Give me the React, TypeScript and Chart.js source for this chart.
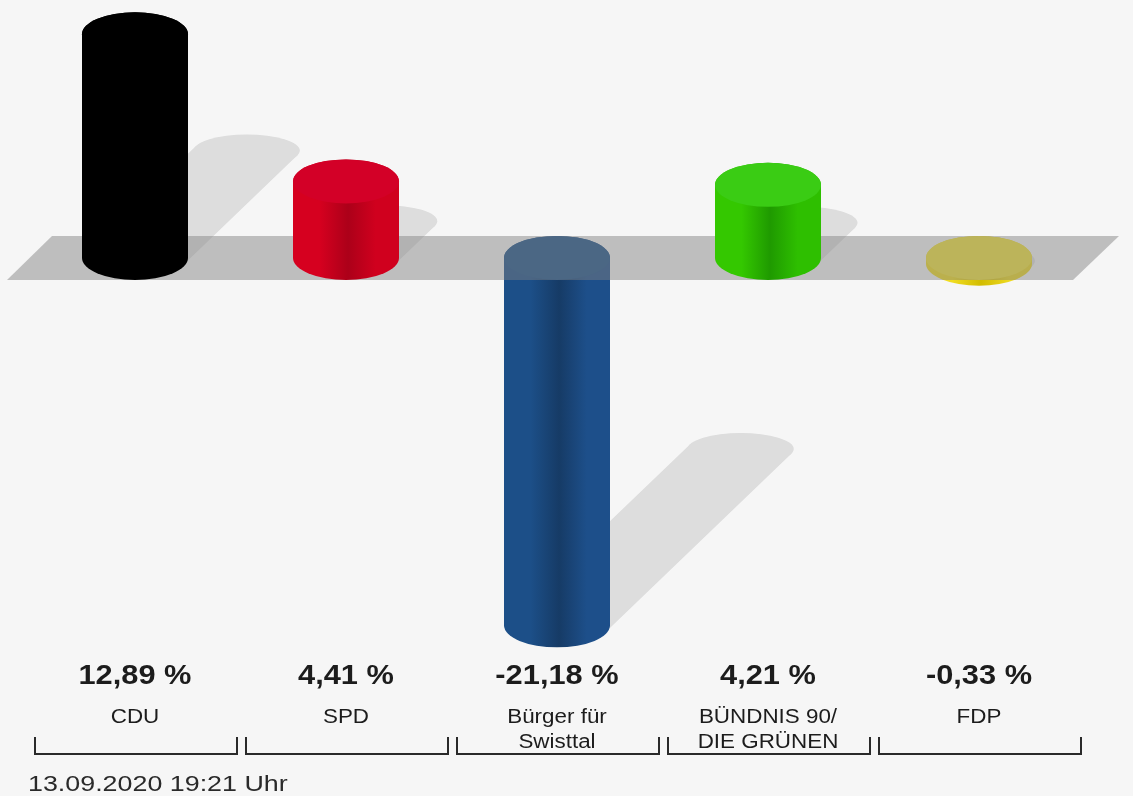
import React, { useEffect, useRef } from "react";
import { Chart, registerables } from "chart.js";

Chart.register(...registerables);

// ---- data ----
const parties: string[][] = [
  ["CDU"],
  ["SPD"],
  ["Bürger für", "Swisttal"],
  ["BÜNDNIS 90/", "DIE GRÜNEN"],
  ["FDP"],
];
const changes: number[] = [12.89, 4.41, -21.18, 4.21, -0.33];
const capColors: string[] = ["#000000", "#d30027", "#1d5189", "#3acc14", "#f2e23a"];
const bodyLight: string[] = ["#000000", "#d6001f", "#1c4f88", "#34c800", "#f0dc20"];
const bodyDark: string[] = ["#000000", "#ac0019", "#163b66", "#1f9a00", "#d2bc00"];
const bodyRight: string[] = ["#000000", "#d0001e", "#1d4f8a", "#2ebf00", "#ecd820"];
const timestamp = "13.09.2020 19:21 Uhr";

const FONT = '"Liberation Sans", Arial, Helvetica, sans-serif';

function fmt(v: number): string {
  return v.toFixed(2).replace(".", ",") + " %";
}

function stretchedText(
  ctx: CanvasRenderingContext2D,
  text: string,
  x: number,
  y: number,
  font: string,
  sx: number,
  align: CanvasTextAlign,
  baseline: CanvasTextBaseline
) {
  ctx.save();
  ctx.translate(x, y);
  ctx.scale(sx, 1);
  ctx.font = font;
  ctx.textAlign = align;
  ctx.textBaseline = baseline;
  ctx.fillText(text, 0, 0);
  ctx.restore();
}

const cylinderPlugin = {
  id: "cylinder3d",
  afterDatasetsDraw(chart: any) {
    const ctx: CanvasRenderingContext2D = chart.ctx;
    const meta = chart.getDatasetMeta(0);
    const area = chart.chartArea;
    const yScale = chart.scales.y;
    const zero = yScale.getPixelForValue(0);
    const RY = 22;
    const SRY = 16;

    const bars = meta.data.map((el: any, i: number) => {
      const cx = el.x;
      const rx = el.width / 2;
      const top = Math.min(el.y, el.base);
      const bot = Math.max(el.y, el.base);
      return { i, cx, rx, top, bot, h: bot - top, neg: changes[i] < 0 };
    });

    // shadows (union on offscreen canvas, then composited with alpha)
    const off = document.createElement("canvas");
    off.width = chart.width;
    off.height = chart.height;
    const o = off.getContext("2d")!;
    o.fillStyle = "#000";
    bars.forEach((b: any) => {
      if (b.h < 1) return;
      const p0x = b.cx, p0y = b.bot;
      const p1x = b.cx + 0.5 * b.h, p1y = b.bot - 0.48 * b.h;
      const dx = p1x - p0x, dy = p1y - p0y;
      const len = Math.hypot(dx, dy);
      const nx = -dy / len, ny = dx / len;
      const den = Math.sqrt(b.rx * b.rx * nx * nx + SRY * SRY * ny * ny);
      const px = (b.rx * b.rx * nx) / den, py = (SRY * SRY * ny) / den;
      o.beginPath();
      o.ellipse(p0x, p0y, b.rx, SRY, 0, 0, Math.PI * 2);
      o.fill();
      o.beginPath();
      o.ellipse(p1x, p1y, b.rx, SRY, 0, 0, Math.PI * 2);
      o.fill();
      o.beginPath();
      o.moveTo(p0x + px, p0y + py);
      o.lineTo(p1x + px, p1y + py);
      o.lineTo(p1x - px, p1y - py);
      o.lineTo(p0x - px, p0y - py);
      o.closePath();
      o.fill();
    });
    ctx.save();
    ctx.globalAlpha = 0.1;
    ctx.drawImage(off, 0, 0);
    ctx.restore();

    const drawCyl = (b: any) => {
      const { cx, rx, top, bot, i } = b;
      const g = ctx.createLinearGradient(cx - rx, 0, cx + rx, 0);
      g.addColorStop(0, bodyLight[i]);
      g.addColorStop(0.25, bodyLight[i]);
      g.addColorStop(0.52, bodyDark[i]);
      g.addColorStop(0.78, bodyRight[i]);
      g.addColorStop(1, bodyRight[i]);
      ctx.beginPath();
      ctx.moveTo(cx - rx, top);
      ctx.lineTo(cx - rx, bot);
      ctx.ellipse(cx, bot, rx, RY, 0, Math.PI, 0, true);
      ctx.lineTo(cx + rx, top);
      ctx.ellipse(cx, top, rx, RY, 0, 0, Math.PI, true);
      ctx.closePath();
      ctx.fillStyle = g;
      ctx.fill();
      ctx.beginPath();
      ctx.ellipse(cx, top, rx, RY, 0, 0, Math.PI * 2);
      ctx.fillStyle = capColors[i];
      ctx.fill();
    };

    bars.filter((b: any) => b.neg).forEach(drawCyl);

    // zero plane
    ctx.save();
    ctx.fillStyle = "rgba(128,128,128,0.47)";
    ctx.beginPath();
    ctx.moveTo(area.left + 22.5, zero - RY);
    ctx.lineTo(area.right + 34.5, zero - RY);
    ctx.lineTo(area.right - 11.5, zero + RY);
    ctx.lineTo(area.left - 22.5, zero + RY);
    ctx.closePath();
    ctx.fill();
    ctx.restore();

    bars.filter((b: any) => !b.neg).forEach(drawCyl);

    // labels, brackets
    ctx.save();
    ctx.fillStyle = "#1c1c1c";
    bars.forEach((b: any) => {
      const cx = b.cx;
      stretchedText(ctx, fmt(changes[b.i]), cx, 676, `bold 28px ${FONT}`, 1.1, "center", "middle");
      const lines = parties[b.i];
      lines.forEach((ln, k) => {
        stretchedText(ctx, ln, cx, 717 + k * 25, `20px ${FONT}`, 1.12, "center", "middle");
      });
      ctx.strokeStyle = "#2a2a2a";
      ctx.lineWidth = 2;
      ctx.beginPath();
      ctx.moveTo(cx - 100, 737);
      ctx.lineTo(cx - 100, 754);
      ctx.lineTo(cx + 102, 754);
      ctx.lineTo(cx + 102, 737);
      ctx.stroke();
    });
    ctx.fillStyle = "#2a2a2a";
    stretchedText(ctx, timestamp, 28, 791, `22px ${FONT}`, 1.22, "left", "alphabetic");
    ctx.restore();
  },
};

export default function App() {
  const ref = useRef<HTMLCanvasElement | null>(null);

  useEffect(() => {
    document.body.style.margin = "0";
    document.body.style.background = "#f6f6f6";
    const canvas = ref.current!;
    const chart = new Chart(canvas, {
      type: "bar",
      data: {
        labels: parties,
        datasets: [
          {
            data: changes,
            backgroundColor: "rgba(0,0,0,0)",
            borderWidth: 0,
            categoryPercentage: 1,
            barPercentage: 106 / 211,
          },
        ],
      },
      options: {
        responsive: false,
        animation: false,
        events: [],
        layout: { padding: { left: 29.5, right: 48.5, top: 15, bottom: 156.4 } },
        scales: {
          x: { display: false, offset: true },
          y: { display: false, min: -22, max: 14 },
        },
        plugins: { legend: { display: false }, tooltip: { enabled: false } },
      },
      plugins: [cylinderPlugin],
    } as any);
    return () => chart.destroy();
  }, []);

  return (
    <div style={{ width: 1133, height: 796, background: "#f6f6f6" }}>
      <canvas ref={ref} width={1133} height={796} style={{ display: "block" }} />
    </div>
  );
}
